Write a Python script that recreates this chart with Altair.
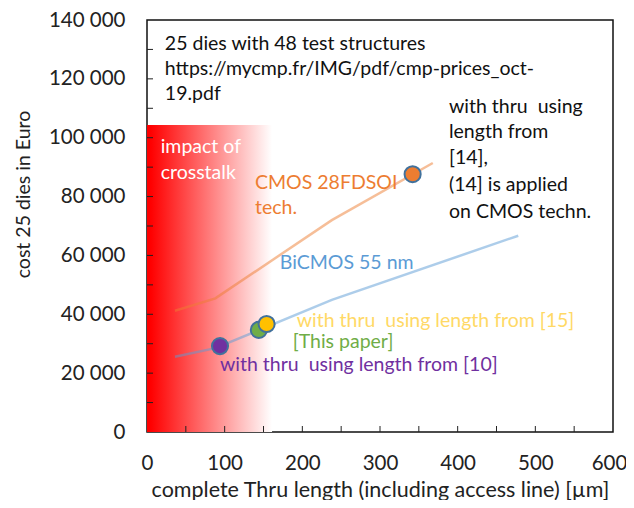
import altair as alt
import pandas as pd

# ---- data ----
cmos_x = [36, 88, 238, 368]
cmos_y = [41200, 45400, 72000, 91400]
bicmos_x = [36, 88, 238, 478]
bicmos_y = [25600, 28500, 44900, 66700]

pt_x = [342, 94, 144, 154]
pt_y = [87600, 29200, 34700, 36700]
pt_name = ["[14]", "[10]", "This paper", "[15]"]
pt_color = ["#ED7D31", "#7030A0", "#70AD47", "#FFC000"]

zone_x = [0]
zone_x2 = [161]
zone_y = [0]
zone_y2 = [104300]

x_minor = [50 * i for i in range(1, 12)]
y_minor = [10000 * i for i in range(1, 14)]

NB = "\u00a0"
ann_text = [
    "25 dies with 48 test structures",
    "https://mycmp.fr/IMG/pdf/cmp-prices_oct-",
    "19.pdf",
    "impact of",
    "crosstalk",
    "CMOS 28FDSOI",
    "tech.",
    "BiCMOS 55 nm",
    "with thru " + NB + "using length from [15]",
    "[This paper]",
    "with thru " + NB + "using length from [10]",
    "with thru " + NB + "using",
    "length from",
    "[14],",
    "(14] is applied",
    "on CMOS techn.",
]
ann_x = [23, 23, 23, 17.6, 17.6, 139, 139, 171, 192.7, 187.6, 94,
         388.8, 388.8, 388.8, 388.8, 388.8]
ann_y = [131800, 123300, 114800, 96900, 88000, 84600, 76100, 57400,
         37800, 30700, 22800, 110500, 101900, 93100, 83900, 74900]
ann_color = ["#111111", "#111111", "#111111", "#ffffff", "#ffffff",
             "#ED7D31", "#ED7D31", "#5B9BD5", "#FFD966", "#70AD47", "#7030A0",
             "#111111", "#111111", "#111111", "#111111", "#111111"]

FONT = "Lato"
FS = 19.5

xscale = alt.Scale(domain=[0, 600], nice=False)
yscale = alt.Scale(domain=[0, 140000], nice=False)

base_x = alt.X(
    "x:Q", scale=xscale,
    axis=alt.Axis(values=[0, 100, 200, 300, 400, 500, 600], grid=False, domain=False,
                  ticks=False, labelPadding=21, labelFontSize=20.5, labelFont=FONT,
                  labelColor="#222222",
                  labelOffset={"condition": {"test": "datum.value === 600", "value": -4},
                               "value": 0},
                  title="complete Thru length (including access line) [µm]",
                  titleFontSize=21.5, titleFont=FONT, titleFontWeight="normal",
                  titleColor="#222222", titleY=47, titleBaseline="top",
                  labelFlush=False),
)
base_y = alt.Y(
    "y:Q", scale=yscale,
    axis=alt.Axis(values=[20000 * i for i in range(8)], grid=False, domain=False,
                  ticks=False, labelPadding=22, labelFontSize=20.5, labelFont=FONT,
                  labelColor="#222222",
                  labelExpr="replace(format(datum.value, ','), ',', ' ')",
                  title="cost 25 dies in Euro", titleFontSize=19.5, titleFont=FONT,
                  titleFontWeight="normal", titleColor="#222222",
                  titleX=-114, titleY=174, labelFlush=False),
)

zone_df = pd.DataFrame({"x": zone_x, "x2": zone_x2, "y": zone_y, "y2": zone_y2})
zone = alt.Chart(zone_df).mark_rect(
    color=alt.LinearGradient(
        gradient="linear",
        stops=[alt.GradientStop(color="#ff0000", offset=0),
               alt.GradientStop(color="#ff0000", offset=0.03),
               alt.GradientStop(color="#ffffff", offset=1)],
        x1=0, x2=1, y1=0, y2=0,
    )
).encode(x=base_x, x2="x2:Q", y=base_y, y2="y2:Q")

lines_df = pd.concat([
    pd.DataFrame({"x": cmos_x, "y": cmos_y, "s": "CMOS"}),
    pd.DataFrame({"x": bicmos_x, "y": bicmos_y, "s": "BiCMOS"}),
])
lines = alt.Chart(lines_df).mark_line(strokeWidth=2.5, opacity=0.5).encode(
    x="x:Q", y="y:Q",
    color=alt.Color("s:N", scale=alt.Scale(domain=["CMOS", "BiCMOS"],
                                           range=["#ED7D31", "#5B9BD5"]), legend=None),
)

pts_df = pd.DataFrame({"x": pt_x, "y": pt_y, "n": pt_name, "c": pt_color})
pts = alt.Chart(pts_df).mark_point(filled=True, size=260, opacity=1,
                                   stroke="#41719C", strokeWidth=2).encode(
    x="x:Q", y="y:Q", fill=alt.Fill("c:N", scale=None),
)

xt_df = pd.DataFrame({"x": x_minor})
xticks = alt.Chart(xt_df).mark_rule(color="#222222", strokeWidth=1).encode(
    x="x:Q", y=alt.value(412), y2=alt.value(406))
yt_df = pd.DataFrame({"y": y_minor})
yticks = alt.Chart(yt_df).mark_rule(color="#222222", strokeWidth=1).encode(
    y="y:Q", x=alt.value(0), x2=alt.value(6))

ann_df = pd.DataFrame({"t": ann_text, "x": ann_x, "y": ann_y, "c": ann_color})
ann = alt.Chart(ann_df).mark_text(align="left", baseline="middle", font=FONT,
                                  fontSize=FS).encode(
    x="x:Q", y="y:Q", text="t:N", color=alt.Color("c:N", scale=None))

chart = alt.layer(zone, lines, pts, xticks, yticks, ann).properties(
    width=466, height=412,
    autosize=alt.AutoSizeParams(type="none"),
    padding={"left": 139, "top": 12, "right": 13, "bottom": 68},
).configure_view(stroke="#111111", strokeWidth=1.5)

chart.save("out.html", embed_options={"renderer": "svg", "actions": False})
